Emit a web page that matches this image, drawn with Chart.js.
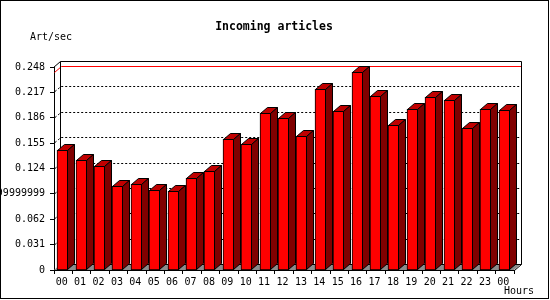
<!DOCTYPE html>
<html>
<head>
<meta charset="utf-8">
<script src="https://cdn.jsdelivr.net/npm/chart.js@4/dist/chart.umd.min.js"></script>
<style>
  html, body { margin: 0; padding: 0; background: #fff; }
  canvas { display: block; }
</style>
</head>
<body>
<canvas id="c" width="550" height="300"></canvas>
<script>
const hours = ['00','01','02','03','04','05','06','07','08','09','10','11','12','13','14','15','16','17','18','19','20','21','22','23','00'];
const artPerSec = [0.147,0.134,0.127,0.103,0.105,0.098,0.097,0.112,0.121,0.160,0.154,0.192,0.186,0.164,0.221,0.194,0.242,0.213,0.177,0.197,0.211,0.208,0.173,0.197,0.196];
const yTickValues = [0,0.031,0.062,0.093,0.124,0.155,0.186,0.217,0.248];
const yTickLabels = ['0','0.031','0.062','0.09299999999999999','0.124','0.155','0.186','0.217','0.248'];
const chartTitle = 'Incoming articles';
const yUnit = 'Art/sec';
const xUnit = 'Hours';

const DX = 7, DY = 6;
const MONO = '"DejaVu Sans Mono", "Liberation Mono", monospace';

const threeD = {
  id: 'threeD',
  beforeDraw(chart) {
    const ctx = chart.ctx;
    ctx.save();
    ctx.fillStyle = '#fff';
    ctx.fillRect(0, 0, chart.width, chart.height);
    ctx.restore();
  },
  afterDatasetsUpdate(chart) {
    chart.getDatasetMeta(0).data.forEach(el => {
      el.x = Math.round(el.x - 1) + 0.5;
      el.y = Math.round(el.y);
      el.base = Math.round(el.base);
    });
  },
  beforeDatasetsDraw(chart) {
    const ctx = chart.ctx;
    const {left, right, top, bottom} = chart.chartArea;
    const ys = chart.scales.y;
    ctx.save();
    // floor
    ctx.fillStyle = '#8c8c8c';
    ctx.beginPath();
    ctx.moveTo(left, bottom);
    ctx.lineTo(right, bottom);
    ctx.lineTo(right + DX, bottom - DY);
    ctx.lineTo(left + DX, bottom - DY);
    ctx.closePath();
    ctx.fill();
    // dotted grid on back wall
    ctx.strokeStyle = '#000';
    ctx.lineWidth = 1;
    ctx.setLineDash([2, 2]);
    yTickValues.forEach(v => {
      if (v <= 0 || v >= ys.max) return;
      const y = Math.round(ys.getPixelForValue(v)) + 0.5;
      ctx.beginPath();
      ctx.moveTo(left + 1, y - 1);
      ctx.lineTo(left + DX, y - DY);
      ctx.lineTo(right + DX, y - DY);
      ctx.stroke();
    });
    ctx.setLineDash([]);
    // max line
    const m = Math.max(...artPerSec);
    const ym = Math.round(ys.getPixelForValue(m)) + 0.5;
    ctx.strokeStyle = '#ff0000';
    ctx.beginPath();
    ctx.moveTo(left + 0.5, ym);
    ctx.lineTo(left + DX + 0.5, ym - DY);
    ctx.lineTo(right + DX + 0.5, ym - DY);
    ctx.stroke();
    // back wall outline
    ctx.strokeStyle = '#000';
    const L = Math.round(left) - 0.5, R = Math.round(right) + 0.5;
    const T = Math.round(top) + 0.5, B = Math.round(bottom) + 0.5;
    ctx.beginPath();
    ctx.moveTo(L, T);
    ctx.lineTo(L + DX, T - DY);
    ctx.lineTo(R + DX, T - DY);
    ctx.lineTo(R + DX, B - DY);
    ctx.lineTo(R, B);
    ctx.moveTo(L + DX, T - DY);
    ctx.lineTo(L + DX, B - DY);
    ctx.lineTo(R + DX, B - DY);
    ctx.stroke();
    ctx.restore();
  },
  afterDatasetsDraw(chart) {
    const ctx = chart.ctx;
    ctx.save();
    ctx.strokeStyle = '#000';
    ctx.lineWidth = 1;
    chart.getDatasetMeta(0).data.forEach(el => {
      const {x, y, base, width} = el;
      const l = x - width / 2, r = x + width / 2;
      const yt = y + 0.5, yb = base - 0.5, xl = l + 0.5, xr = r - 0.5;
      // top
      ctx.fillStyle = '#c00000';
      ctx.beginPath();
      ctx.moveTo(xl, yt);
      ctx.lineTo(xl + DX, yt - DY);
      ctx.lineTo(xr + DX, yt - DY);
      ctx.lineTo(xr, yt);
      ctx.closePath();
      ctx.fill();
      ctx.stroke();
      // side
      ctx.fillStyle = '#800000';
      ctx.beginPath();
      ctx.moveTo(xr, yt);
      ctx.lineTo(xr + DX, yt - DY);
      ctx.lineTo(xr + DX, yb - DY);
      ctx.lineTo(xr, yb);
      ctx.closePath();
      ctx.fill();
      ctx.stroke();
    });
    ctx.restore();
  },
  afterDraw(chart) {
    const ctx = chart.ctx;
    ctx.save();
    ctx.fillStyle = '#000';
    ctx.textBaseline = 'middle';
    ctx.font = 'bold 11.5px ' + MONO;
    ctx.textAlign = 'center';
    ctx.fillText(chartTitle, 274, 27);
    ctx.font = '10px ' + MONO;
    ctx.textAlign = 'left';
    ctx.fillText(yUnit, 30, 37);
    ctx.fillText(xUnit, 504, 291);
    ctx.strokeStyle = '#000';
    ctx.lineWidth = 1;
    ctx.strokeRect(0.5, 0.5, 548, 298);
    ctx.restore();
  }
};

new Chart(document.getElementById('c'), {
  type: 'bar',
  data: {
    labels: hours,
    datasets: [{
      data: artPerSec,
      backgroundColor: '#ff0000',
      borderColor: '#000',
      borderWidth: 1,
      borderSkipped: false,
      barThickness: 11
    }]
  },
  options: {
    responsive: false,
    animation: false,
    devicePixelRatio: 1,
    layout: { padding: { top: 67, right: 36, bottom: 0, left: 0 } },
    plugins: { legend: { display: false }, tooltip: { enabled: false }, title: { display: false } },
    scales: {
      x: {
        offset: true,
        grid: { offset: true, drawOnChartArea: false, drawTicks: true, tickLength: 4, color: '#000' },
        border: { color: '#000' },
        ticks: { font: { family: MONO, size: 10 }, color: '#000', padding: 2, maxRotation: 0, autoSkip: false, labelOffset: -1.5 },
        afterFit(s) { s.height = 30; }
      },
      y: {
        min: 0,
        max: 0.248,
        afterBuildTicks(s) { s.ticks = yTickValues.map(v => ({ value: v })); },
        grid: { drawOnChartArea: false, drawTicks: true, tickLength: 4, color: '#000' },
        border: { color: '#000' },
        ticks: { font: { family: MONO, size: 10 }, color: '#000', padding: 5, callback: (v, i) => yTickLabels[i] },
        afterFit(s) { s.width = 54; }
      }
    }
  },
  plugins: [threeD]
});
</script>
</body>
</html>
